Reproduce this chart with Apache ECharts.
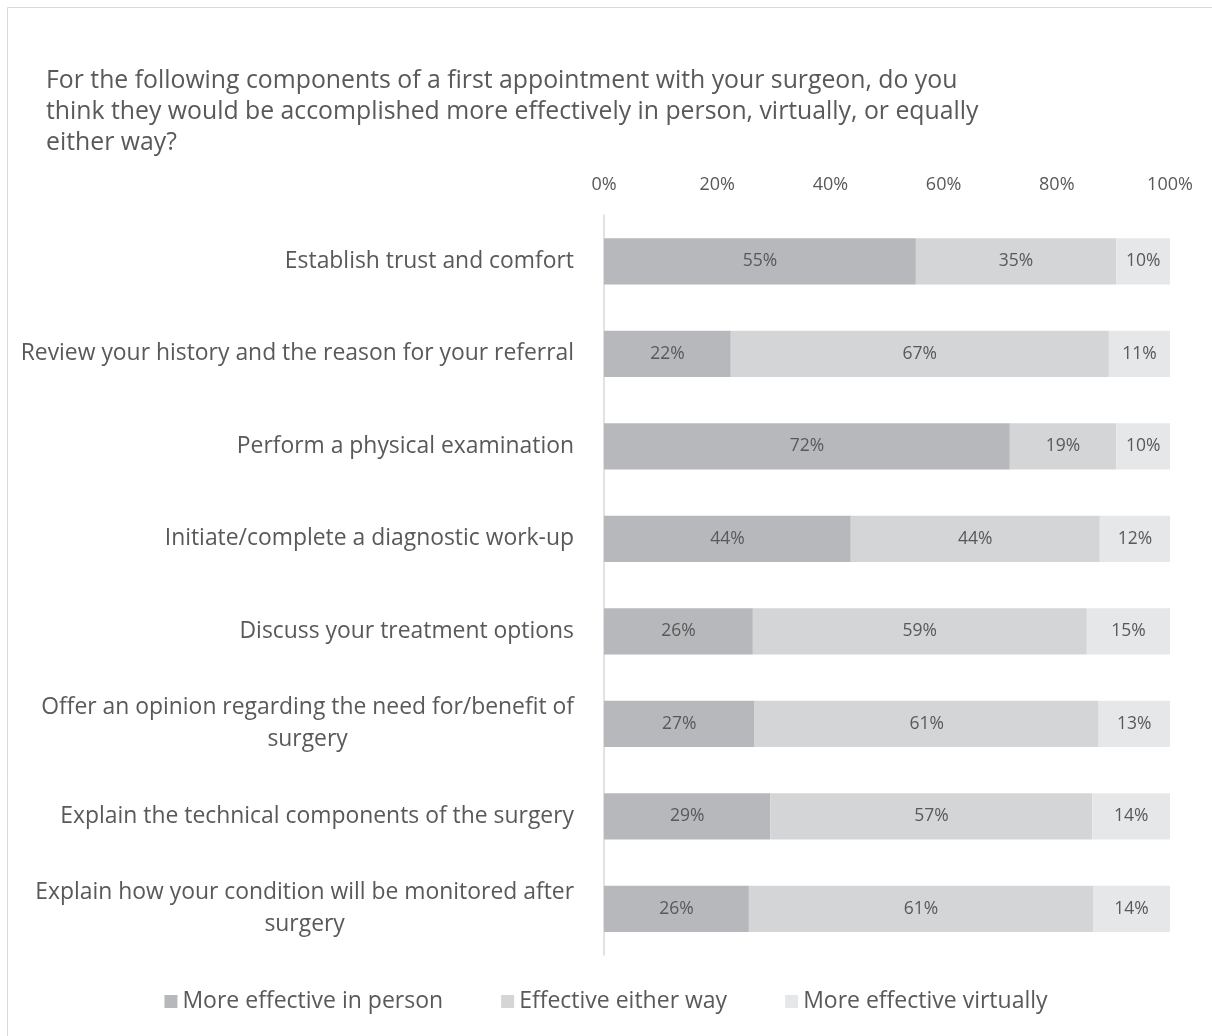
<!DOCTYPE html>
<html><head><meta charset="utf-8">
<script src="https://cdn.jsdelivr.net/npm/echarts@6/dist/echarts.min.js"></script>
<style>html,body{margin:0;padding:0;background:#fff}#c{width:1212px;height:1036px}</style>
</head><body><div id="c"></div>
<script>
const titleText = "For the following components of a first appointment with your surgeon, do you\nthink they would be accomplished more effectively in person, virtually, or equally\neither way?";
const categories = [
  "Establish trust and comfort",
  "Review your history and the reason for your referral",
  "Perform a physical examination",
  "Initiate/complete a diagnostic work-up",
  "Discuss your treatment options",
  "Offer an opinion regarding the need for/benefit of\nsurgery",
  "Explain the technical components of the surgery",
  "Explain how your condition will be monitored after\nsurgery"
];
const seriesNames = ["More effective in person", "Effective either way", "More effective virtually"];
const inPerson = [55.1, 22.4, 71.7, 43.6, 26.3, 26.6, 29.4, 25.6];
const eitherWay = [35.4, 66.8, 18.8, 44.0, 59.0, 60.8, 56.9, 60.8];
const virtually = [9.5, 10.8, 9.6, 12.4, 14.7, 12.6, 13.7, 13.6];
const xTicks = [0, 20, 40, 60, 80, 100];
const colors = ["#B7B8BB", "#D4D5D7", "#E6E7E9"];

const FONT = "Open Sans";
const TXT = "#595959";
const chart = echarts.init(document.getElementById('c'));
const mk = (name, data, i) => ({
  name, type: 'bar', stack: 'total', data, barWidth: '50%',
  itemStyle: { color: colors[i] },
  label: { show: true, position: 'inside', color: TXT, fontFamily: FONT, fontSize: 17.5,
    formatter: p => Math.round(p.value) + '%' },
  emphasis: { disabled: true }
});
chart.setOption({
  animation: false,
  textStyle: { fontFamily: FONT },
  title: { text: titleText, left: 41, top: 60,
    textStyle: { fontFamily: FONT, fontSize: 24.8, fontWeight: 'normal', color: TXT, lineHeight: 31 } },
  graphic: [{ type: 'rect', shape: { x: 7.5, y: 7.5, width: 1230, height: 1060 },
    style: { fill: 'none', stroke: '#D9D9D9', lineWidth: 1 }, silent: true }],
  legend: { bottom: 18, left: 'center', itemWidth: 13, itemHeight: 13, itemGap: 58,
    icon: 'rect', textStyle: { fontFamily: FONT, fontSize: 23, color: TXT }, data: seriesNames },
  grid: { left: 604, right: 42, top: 215, bottom: 81, containLabel: false },
  xAxis: { type: 'value', position: 'top', min: 0, max: 100, interval: 20,
    axisLine: { show: false }, axisTick: { show: false }, splitLine: { show: false },
    axisLabel: { color: TXT, fontFamily: FONT, fontSize: 18, margin: 21,
      formatter: v => xTicks.includes(v) ? v + '%' : '' } },
  yAxis: { type: 'category', inverse: true, data: categories,
    axisLine: { show: true, lineStyle: { color: '#D9D9D9', width: 1.5 } },
    axisTick: { show: false },
    axisLabel: { margin: 30, align: 'right',
      formatter: v => '{c|' + v.split('\n').join('}\n{c|') + '}',
      rich: { c: { align: 'center', color: TXT, fontFamily: FONT, fontSize: 22.9, lineHeight: 32 } } } },
  series: [mk(seriesNames[0], inPerson, 0), mk(seriesNames[1], eitherWay, 1), mk(seriesNames[2], virtually, 2)]
});
</script></body></html>
